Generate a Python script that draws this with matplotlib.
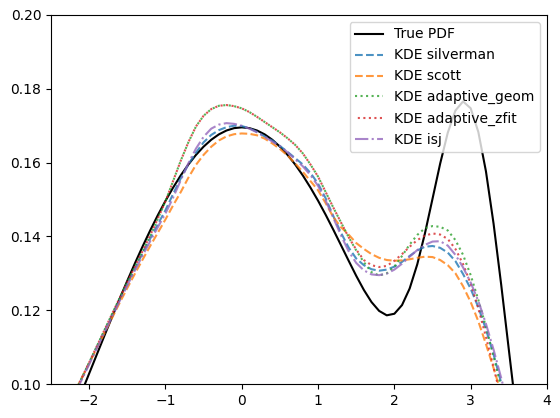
import numpy as np
import matplotlib
matplotlib.use("Agg")
import matplotlib.pyplot as plt

# grid for true PDF
x_true = [-2.2, -2.1, -2.0, -1.9, -1.8, -1.7, -1.6, -1.5, -1.4, -1.3, -1.2, -1.1,
          -1.0, -0.9, -0.8, -0.7, -0.6, -0.5, -0.4, -0.3, -0.2, -0.1, 0.0, 0.1,
          0.2, 0.3, 0.4, 0.5, 0.6, 0.7, 0.8, 0.9, 1.0, 1.1, 1.2, 1.3, 1.4, 1.5,
          1.6, 1.7, 1.8, 1.9, 2.0, 2.1, 2.2, 2.3, 2.4, 2.5, 2.6, 2.7, 2.8, 2.9,
          3.0, 3.1, 3.2, 3.3, 3.4, 3.5, 3.6, 3.7]
true_pdf = [0.09259, 0.09770, 0.10284, 0.10797, 0.11309, 0.11814, 0.12312, 0.12798,
            0.13271, 0.13726, 0.14162, 0.14575, 0.14963, 0.15322, 0.15652, 0.15948,
            0.16209, 0.16433, 0.16619, 0.16765, 0.16870, 0.16934, 0.16955, 0.16934,
            0.16870, 0.16765, 0.16619, 0.16433, 0.16209, 0.15948, 0.15652, 0.15323,
            0.14967, 0.14584, 0.14180, 0.13763, 0.13343, 0.12931, 0.12549, 0.12221,
            0.11981, 0.11861, 0.11904, 0.12138, 0.12587, 0.13244, 0.14078, 0.15022,
            0.15973, 0.16812, 0.17411, 0.17657, 0.17472, 0.16831, 0.15762, 0.14342,
            0.12687, 0.10926, 0.09180, 0.07555]

# grid for KDE curves
x_kde = [-2.3, -2.2, -2.1, -2.0, -1.9, -1.8, -1.7, -1.6, -1.5, -1.4, -1.3, -1.2,
         -1.1, -1.0, -0.9, -0.8, -0.7, -0.6, -0.5, -0.4, -0.3, -0.2, -0.1, 0.0,
         0.1, 0.2, 0.3, 0.4, 0.5, 0.6, 0.7, 0.8, 0.9, 1.0, 1.1, 1.2, 1.3, 1.4,
         1.5, 1.6, 1.7, 1.8, 1.9, 2.0, 2.1, 2.2, 2.3, 2.4, 2.5, 2.6, 2.7, 2.8,
         2.9, 3.0, 3.1, 3.2, 3.3, 3.4, 3.5]

kde_silverman = [0.0930, 0.0972, 0.1014, 0.1057, 0.1100, 0.1143, 0.1186, 0.1229,
                 0.1271, 0.1313, 0.1354, 0.1394, 0.1433, 0.1471, 0.1515, 0.1557,
                 0.1595, 0.1627, 0.1655, 0.1675, 0.1688, 0.1696, 0.1700, 0.1699,
                 0.1693, 0.1683, 0.1671, 0.1660, 0.1645, 0.1629, 0.1612, 0.1595,
                 0.1572, 0.1543, 0.1503, 0.1455, 0.1410, 0.1370, 0.1340, 0.1322,
                 0.1311, 0.1307, 0.1310, 0.1318, 0.1331, 0.1347, 0.1362, 0.1372,
                 0.1374, 0.1369, 0.1356, 0.1333, 0.1298, 0.1258, 0.1208, 0.1148,
                 0.1080, 0.1003, 0.0925]

kde_scott = [0.0935, 0.0975, 0.1015, 0.1056, 0.1097, 0.1138, 0.1179, 0.1220,
             0.1260, 0.1299, 0.1337, 0.1374, 0.1410, 0.1446, 0.1484, 0.1520,
             0.1559, 0.1594, 0.1621, 0.1643, 0.1660, 0.1671, 0.1677, 0.1679,
             0.1678, 0.1674, 0.1665, 0.1652, 0.1637, 0.1619, 0.1598, 0.1575,
             0.1550, 0.1525, 0.1490, 0.1452, 0.1425, 0.1405, 0.1382, 0.1366,
             0.1352, 0.1342, 0.1336, 0.1334, 0.1335, 0.1338, 0.1342, 0.1345,
             0.1344, 0.1336, 0.1322, 0.1300, 0.1265, 0.1222, 0.1170, 0.1108,
             0.1043, 0.0975, 0.0900]

kde_adaptive_geom = [0.0930, 0.0972, 0.1015, 0.1058, 0.1102, 0.1146, 0.1190, 0.1233,
                     0.1276, 0.1318, 0.1360, 0.1403, 0.1448, 0.1495, 0.1550, 0.1605,
                     0.1655, 0.1698, 0.1727, 0.1745, 0.1754, 0.1756, 0.1753, 0.1747,
                     0.1737, 0.1724, 0.1710, 0.1696, 0.1682, 0.1666, 0.1648, 0.1625,
                     0.1595, 0.1562, 0.1520, 0.1478, 0.1438, 0.1398, 0.1362, 0.1330,
                     0.1303, 0.1294, 0.1300, 0.1318, 0.1347, 0.1378, 0.1404, 0.1422,
                     0.1428, 0.1426, 0.1416, 0.1390, 0.1350, 0.1295, 0.1228, 0.1155,
                     0.1075, 0.0990, 0.0905]

kde_adaptive_zfit = [0.0930, 0.0972, 0.1015, 0.1058, 0.1102, 0.1146, 0.1190, 0.1233,
                     0.1276, 0.1318, 0.1360, 0.1403, 0.1448, 0.1495, 0.1550, 0.1605,
                     0.1655, 0.1698, 0.1727, 0.1745, 0.1754, 0.1756, 0.1753, 0.1747,
                     0.1737, 0.1724, 0.1710, 0.1696, 0.1682, 0.1666, 0.1648, 0.1625,
                     0.1595, 0.1562, 0.1520, 0.1478, 0.1438, 0.1398, 0.1364, 0.1336,
                     0.1322, 0.1317, 0.1320, 0.1334, 0.1352, 0.1372, 0.1390, 0.1402,
                     0.1408, 0.1405, 0.1393, 0.1366, 0.1325, 0.1272, 0.1205, 0.1128,
                     0.1045, 0.0960, 0.0875]

kde_isj = [0.0928, 0.0968, 0.1010, 0.1053, 0.1096, 0.1139, 0.1182, 0.1225,
           0.1267, 0.1308, 0.1348, 0.1387, 0.1425, 0.1462, 0.1505, 0.1552,
           0.1598, 0.1638, 0.1670, 0.1692, 0.1703, 0.1707, 0.1705, 0.1700,
           0.1692, 0.1682, 0.1670, 0.1657, 0.1645, 0.1628, 0.1609, 0.1590,
           0.1566, 0.1537, 0.1497, 0.1450, 0.1403, 0.1360, 0.1328, 0.1308,
           0.1297, 0.1295, 0.1299, 0.1310, 0.1326, 0.1345, 0.1363, 0.1377,
           0.1386, 0.1387, 0.1375, 0.1350, 0.1316, 0.1275, 0.1225, 0.1163,
           0.1093, 0.1016, 0.0935]

labels = ["True PDF", "KDE silverman", "KDE scott", "KDE adaptive_geom",
          "KDE adaptive_zfit", "KDE isj"]

fig = plt.figure(figsize=(5.6, 4.18), dpi=100)
ax = fig.add_axes([51 / 560, 34 / 418, 496 / 560, 369 / 418])

ax.plot(x_true, true_pdf, color="black", lw=1.5, label=labels[0])
ax.plot(x_kde, kde_silverman, color="#1f77b4", ls="--", lw=1.5, alpha=0.8, label=labels[1])
ax.plot(x_kde, kde_scott, color="#ff7f0e", ls="--", lw=1.5, alpha=0.8, label=labels[2])
ax.plot(x_kde, kde_adaptive_geom, color="#2ca02c", ls=":", lw=1.5, alpha=0.8, label=labels[3])
ax.plot(x_kde, kde_adaptive_zfit, color="#d62728", ls=(1.3, (1, 1.65)), lw=1.5, alpha=0.8,
        label=labels[4])
ax.plot(x_kde, kde_isj, color="#9467bd", ls="-.", lw=1.5, alpha=0.8, label=labels[5])

ax.set_xlim(-2.5, 4)
ax.set_ylim(0.10, 0.20)
ax.legend(loc="upper right")

fig.savefig("out.png", dpi=100)
